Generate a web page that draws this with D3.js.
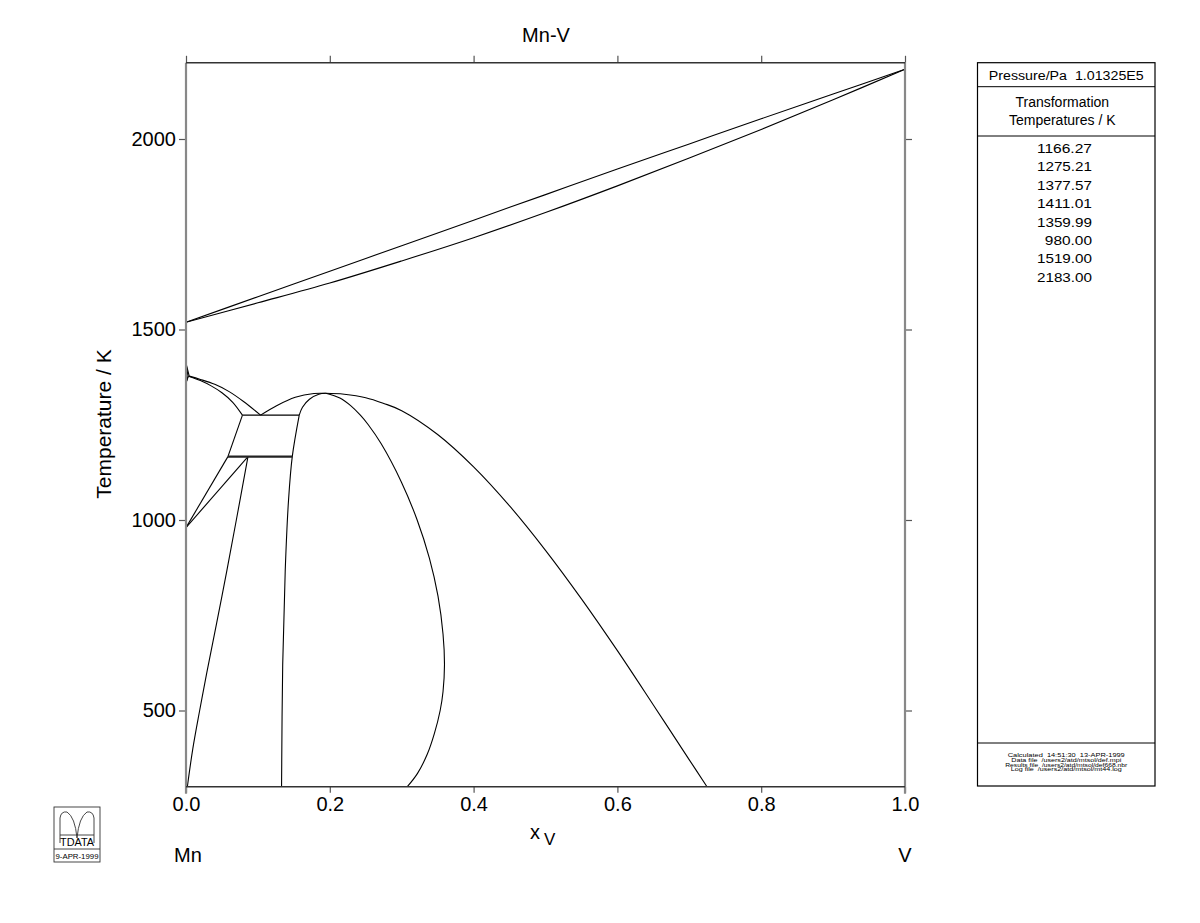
<!DOCTYPE html>
<html><head><meta charset="utf-8">
<script src="https://cdn.jsdelivr.net/npm/d3@7"></script>
<style>
body{margin:0;background:#fff;}
svg{display:block;font-family:"Liberation Sans",Arial,sans-serif;}
</style></head>
<body>
<svg id="chart" width="1200" height="923"></svg>
<script>
// ---------- data ----------
const title = "Mn-V";
const xTickValues = [0, 0.2, 0.4, 0.6, 0.8, 1.0];
const yTickValues = [500, 1000, 1500, 2000];
const transformationTemps = ["1166.27","1275.21","1377.57","1411.01","1359.99","980.00","1519.00","2183.00"];
const footerLines = ["Calculated\u00a0\u00a014:51:30\u00a0\u00a013-APR-1999","Data file\u00a0\u00a0/users2/atd/mtsol/def.mpi","Results file\u00a0\u00a0/users2/atd/mtsol/def668.nbr","Log file\u00a0\u00a0/users2/atd/mtsol/mt44.log"];
const footerWidths = [117, 110, 122, 111];

// phase boundaries [x_V, T/K]
const liquidus = [[0,1519],[0.1,1586],[0.2,1653],[0.3,1720],[0.4,1787],[0.5,1854],[0.6,1921],[0.7,1987],[0.8,2053],[0.9,2118],[1,2183]];
const solidus  = [[0,1519],[0.1,1570],[0.2,1622],[0.3,1680],[0.4,1741],[0.5,1807],[0.6,1877],[0.7,1950],[0.8,2025],[0.9,2103],[1,2183]];
const gammaDelta1 = [[0,1411.01],[0.0045,1377.57]];
const gammaDelta2 = [[0,1411.01],[0.0028,1377.57]];
const gammaBeta1  = [[0,1359.99],[0.0028,1377.57]];
const gammaBeta2  = [[0,1359.99],[0.0034,1377.57]];
const deltaBetaUpper = [[0.0045,1377.57],[0.02,1369],[0.04,1356],[0.06,1337],[0.08,1311],[0.1037,1275.21]];
const deltaBetaLower = [[0.0034,1377.57],[0.02,1366],[0.035,1352],[0.05,1334],[0.065,1309],[0.0785,1275.21]];
const bccDomeOuter = [[0.1037,1275.21],[0.126,1300],[0.152,1322],[0.178,1332],[0.1944,1332.5],[0.22,1330],[0.25,1321],[0.275,1306],[0.30,1287],[0.35,1224.5],[0.40,1139.5],[0.45,1037],[0.50,920.5],[0.55,793],[0.60,657],[0.65,514.5],[0.70,370.5],[0.7246,300]];
const sigmaDomeTop = [[0.1575,1275.21],[0.162,1296],[0.1717,1317],[0.1847,1330],[0.1944,1332.5]];
const sigmaDomeRight = [[0.1944,1332.5],[0.214,1320],[0.229,1300],[0.2425,1275],[0.2535,1250],[0.2715,1200],[0.2995,1100],[0.3215,1000],[0.3385,900],[0.3505,800],[0.3575,700],[0.3595,620],[0.3575,550],[0.3535,500],[0.3455,440],[0.3355,385],[0.322,335],[0.3078,300]];
const sigmaLeft = [[0.1575,1275.21],[0.1478,1166.27],[0.1426,1052],[0.138,867],[0.1345,621],[0.1329,300]];
const betaSigma = [[0.0785,1275.21],[0.0583,1166.27]];
const betaAlpha1 = [[0.0583,1166.27],[0,980]];
const betaAlpha2 = [[0.0862,1166.27],[0,980]];
const alphaSigma = [[0.0862,1166.27],[0.070,1000],[0.050,800],[0.029,600],[0.019,500],[0.0095,400],[0.0019,300]];
const tie1275 = [[0.0785,1275.21],[0.1575,1275.21]];
const tie1166 = [[0.0583,1166.27],[0.1478,1166.27]];

// ---------- drawing ----------
const svg = d3.select("#chart");
const x = d3.scaleLinear().domain([0,1]).range([186,905]);
const y = d3.scaleLinear().domain([300,2200]).range([786.7,62.8]);

const smooth = d3.line().x(d=>x(d[0])).y(d=>y(d[1])).curve(d3.curveCatmullRom.alpha(0.5));
const straight = d3.line().x(d=>x(d[0])).y(d=>y(d[1]));

const g = svg.append("g");
[liquidus, solidus, deltaBetaUpper, deltaBetaLower, bccDomeOuter, sigmaDomeTop, sigmaDomeRight, sigmaLeft, alphaSigma].forEach(c=>{
  g.append("path").attr("d", smooth(c)).attr("fill","none").attr("stroke","#000").attr("stroke-width",1.1);
});
[gammaDelta1, gammaDelta2, gammaBeta1, gammaBeta2, betaSigma, betaAlpha1, betaAlpha2, tie1275].forEach(c=>{
  g.append("path").attr("d", straight(c)).attr("fill","none").attr("stroke","#000").attr("stroke-width",1.1);
});
g.append("path").attr("d", straight(tie1166)).attr("fill","none").attr("stroke","#222").attr("stroke-width",2.2);

// axes
const fmt = d3.format(".1f");
const axB = svg.append("g").attr("transform",`translate(0,${y(300)})`)
  .call(d3.axisBottom(x).tickValues(xTickValues).tickSize(6).tickPadding(4).tickFormat(fmt));
const axT = svg.append("g").attr("transform",`translate(0,${y(2200)})`)
  .call(d3.axisTop(x).tickValues(xTickValues).tickSize(7).tickFormat(""));
const axL = svg.append("g").attr("transform",`translate(${x(0)},0)`)
  .call(d3.axisLeft(y).tickValues(yTickValues).tickSize(7).tickPadding(3).tickFormat(d3.format("d")));
const axR = svg.append("g").attr("transform",`translate(${x(1)},0)`)
  .call(d3.axisRight(y).tickValues(yTickValues).tickSize(7).tickFormat(""));
[axB,axT,axL,axR].forEach(a=>{
  a.select(".domain").remove();
  a.selectAll(".tick line").attr("stroke","#555").attr("stroke-width",1.2);
  a.selectAll("text").attr("font-family","Liberation Sans, Arial, sans-serif").attr("font-size",20).attr("fill","#000");
});
// frame
svg.append("line").attr("x1",x(0)).attr("x2",x(0)).attr("y1",y(2200)).attr("y2",y(300)+7).attr("stroke","#888").attr("stroke-width",2.2);
svg.append("line").attr("x1",x(1)).attr("x2",x(1)).attr("y1",y(2200)).attr("y2",y(300)+7).attr("stroke","#888").attr("stroke-width",2.2);
svg.append("line").attr("x1",x(0)).attr("x2",x(1)).attr("y1",y(300)).attr("y2",y(300)).attr("stroke","#333").attr("stroke-width",1.5);
svg.append("line").attr("x1",x(0)).attr("x2",x(1)).attr("y1",y(2200)).attr("y2",y(2200)).attr("stroke","#333").attr("stroke-width",1.5);

// titles
svg.append("text").attr("x",546).attr("y",42).attr("text-anchor","middle").attr("font-size",20).text(title);
svg.append("text").attr("transform","translate(111,424) rotate(-90)").attr("text-anchor","middle").attr("font-size",21).text("Temperature / K");
const xl = svg.append("text").attr("x",530).attr("y",839).attr("font-size",20);
xl.append("tspan").text("x");
xl.append("tspan").attr("dx",4).attr("dy",6).attr("font-size",17).text("V");
svg.append("text").attr("x",188).attr("y",862).attr("text-anchor","middle").attr("font-size",20).text("Mn");
svg.append("text").attr("x",905).attr("y",862).attr("text-anchor","middle").attr("font-size",20).text("V");

// legend box
const L = {x0:977.5, x1:1155, y0:62.7, y1:786};
const lg = svg.append("g");
lg.append("rect").attr("x",L.x0).attr("y",L.y0).attr("width",L.x1-L.x0).attr("height",L.y1-L.y0).attr("fill","none").attr("stroke","#000").attr("stroke-width",1.2);
[86.7,136,743].forEach(yy=>lg.append("line").attr("x1",L.x0).attr("x2",L.x1).attr("y1",yy).attr("y2",yy).attr("stroke","#000").attr("stroke-width",1));
const cx = (L.x0+L.x1)/2;
lg.append("text").attr("x",cx).attr("y",80).attr("text-anchor","middle").attr("font-size",12.5)
  .attr("textLength",155).attr("lengthAdjust","spacingAndGlyphs").text("Pressure/Pa\u00a0\u00a01.01325E5");
lg.append("text").attr("x",cx-4).attr("y",107).attr("text-anchor","middle").attr("font-size",14).text("Transformation");
lg.append("text").attr("x",cx-4).attr("y",125).attr("text-anchor","middle").attr("font-size",14).text("Temperatures / K");
transformationTemps.forEach((t,i)=>{
  lg.append("text").attr("x",1092).attr("y",153+i*18.4).attr("text-anchor","end").attr("font-size",13.5)
    .attr("textLength",t.length*7.86).attr("lengthAdjust","spacingAndGlyphs").text(t);
});
footerLines.forEach((t,i)=>{
  lg.append("text").attr("x",cx-(footerWidths[i]/2)).attr("y",757+i*4.8).attr("font-size",6)
    .attr("textLength",footerWidths[i]).attr("lengthAdjust","spacingAndGlyphs").text(t);
});

// logo
const lo = svg.append("g").attr("fill","none").attr("stroke","#333").attr("stroke-width",0.9);
lo.append("rect").attr("x",54).attr("y",807).attr("width",46).attr("height",55);
lo.append("line").attr("x1",54).attr("x2",100).attr("y1",849).attr("y2",849);
lo.append("path").attr("d","M60,843 L60,818 Q61,811 67,812 Q75,817 77,838 M94,843 L94,818 Q93,811 87,812 Q79,817 77,838");
lo.append("line").attr("x1",60).attr("x2",94).attr("y1",835).attr("y2",835);
svg.append("text").attr("x",77).attr("y",846).attr("text-anchor","middle").attr("font-size",10).attr("textLength",34).attr("lengthAdjust","spacingAndGlyphs").text("TDATA");
svg.append("text").attr("x",77).attr("y",859).attr("text-anchor","middle").attr("font-size",7).attr("textLength",43).attr("lengthAdjust","spacingAndGlyphs").text("9-APR-1999");
</script>
</body></html>
